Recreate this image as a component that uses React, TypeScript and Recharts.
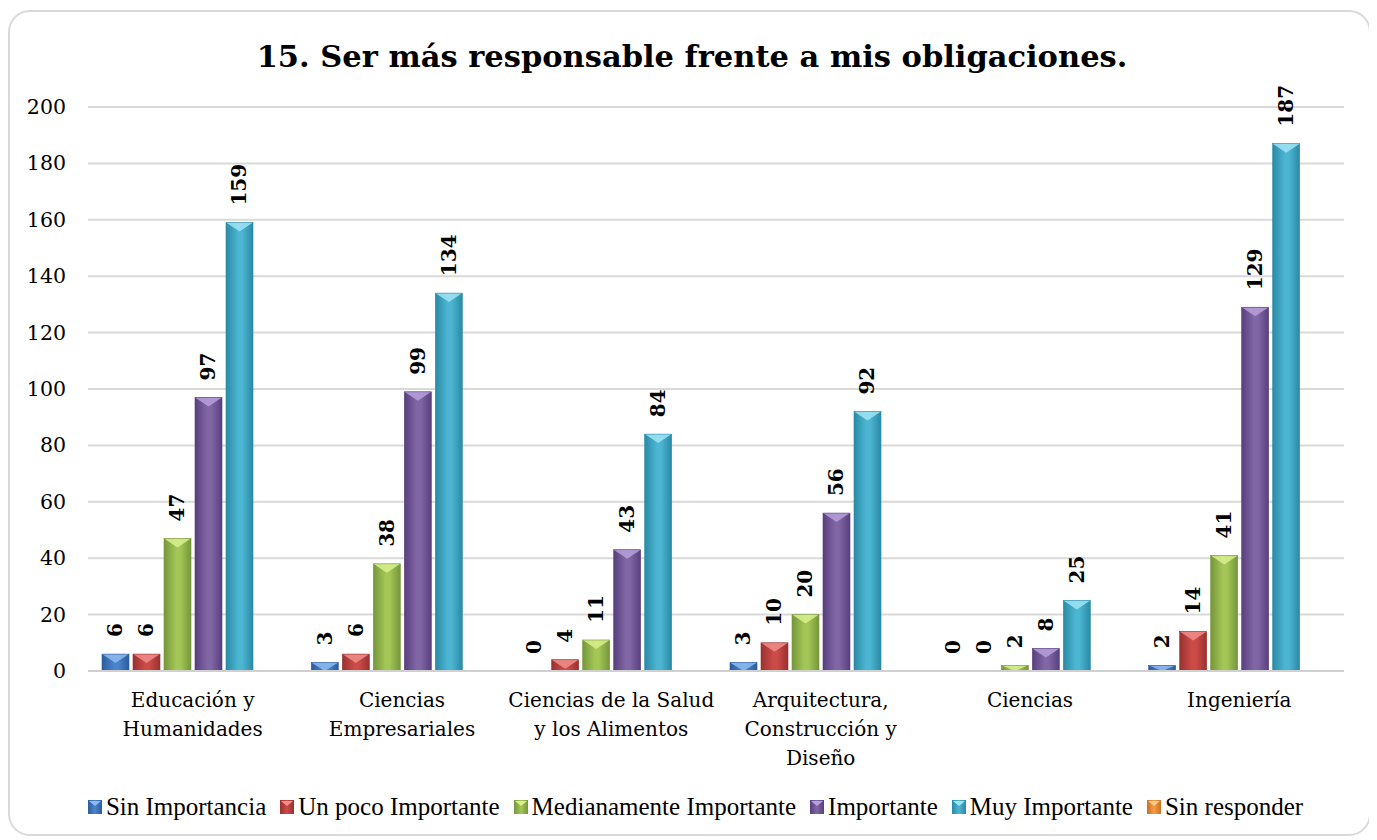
import React from "react";
import { BarChart, Bar, XAxis, YAxis, CartesianGrid, LabelList } from "recharts";

const categories = [
  "Educación y Humanidades",
  "Ciencias Empresariales",
  "Ciencias de la Salud y los Alimentos",
  "Arquitectura, Construcción y Diseño",
  "Ciencias",
  "Ingeniería",
];
const categoryLines = [
  ["Educación y", "Humanidades"],
  ["Ciencias", "Empresariales"],
  ["Ciencias de la Salud", "y los Alimentos"],
  ["Arquitectura,", "Construcción y", "Diseño"],
  ["Ciencias"],
  ["Ingeniería"],
];
const sinImportancia = [6, 3, 0, 3, 0, 2];
const unPocoImportante = [6, 6, 4, 10, 0, 14];
const medianamenteImportante = [47, 38, 11, 20, 2, 41];
const importante = [97, 99, 43, 56, 8, 129];
const muyImportante = [159, 134, 84, 92, 25, 187];
const sinResponder: (number | null)[] = [null, null, null, null, null, null];

const seriesNames = [
  "Sin Importancia",
  "Un poco Importante",
  "Medianamente Importante",
  "Importante",
  "Muy Importante",
  "Sin responder",
];
const seriesValues = [
  sinImportancia,
  unPocoImportante,
  medianamenteImportante,
  importante,
  muyImportante,
  sinResponder,
];
const yTicks = [0, 20, 40, 60, 80, 100, 120, 140, 160, 180, 200];
const title = "15. Ser más responsable frente a mis obligaciones.";

// [edge, center, top highlight]
const palette = [
  ["#2d5c9c", "#4a84cc", "#8fbaf0"],
  ["#983230", "#cc4b48", "#f08e8b"],
  ["#76963a", "#a3c656", "#d8f08e"],
  ["#583f7d", "#8166a6", "#b7a0db"],
  ["#2a8aa5", "#4cb5d2", "#9fe4f5"],
  ["#c8721f", "#f89a48", "#fcc98f"],
];

const data = categories.map((c, i) => {
  const row: Record<string, string | number | null> = { name: c };
  seriesValues.forEach((vals, s) => {
    row["s" + s] = vals[i];
  });
  return row;
});

const serif = "'DejaVu Serif', serif";

function BevelBar(props: any) {
  const { x, y, width, height, idx } = props;
  if (height == null || height <= 0 || isNaN(height)) return null;
  const tri = Math.min(9, height);
  return (
    <g>
      <rect x={x} y={y} width={width} height={height} fill={`url(#grad${idx})`} />
      <polygon
        points={`${x},${y} ${x + width},${y} ${x + width / 2},${y + tri}`}
        fill={palette[idx][2]}
        opacity={0.85}
      />
      <rect x={x} y={y} width={width} height={height} fill="none" stroke={palette[idx][0]} strokeWidth={0.6} />
    </g>
  );
}

function ValueLabel(props: any) {
  const { x, y, width, value } = props;
  if (value == null) return null;
  const cx = x + width / 2;
  const ty = y - 17;
  return (
    <text
      x={cx}
      y={ty}
      transform={`rotate(-90, ${cx}, ${ty})`}
      textAnchor="start"
      dominantBaseline="central"
      fontFamily={serif}
      fontWeight="bold"
      fontSize={20}
      fill="#000"
    >
      {value}
    </text>
  );
}

function XTick(props: any) {
  const { x, y, index } = props;
  const lines = categoryLines[index] || [];
  return (
    <g>
      {lines.map((l, i) => (
        <text key={i} x={x} y={y + 36 + i * 29} textAnchor="middle" fontFamily={serif} fontSize={20} fill="#000">
          {l}
        </text>
      ))}
    </g>
  );
}

function YTick(props: any) {
  const { x, y, payload } = props;
  return (
    <text x={x - 14} y={y} textAnchor="end" dominantBaseline="central" fontFamily={serif} fontSize={20.5} fill="#000">
      {payload.value}
    </text>
  );
}

function LegendMarker({ idx }: { idx: number }) {
  return (
    <svg width={14} height={14} style={{ display: "block" }}>
      <defs>
        <linearGradient id={`lg${idx}`} x1="0" y1="0" x2="1" y2="0">
          <stop offset="0" stopColor={palette[idx][0]} />
          <stop offset="0.5" stopColor={palette[idx][1]} />
          <stop offset="1" stopColor={palette[idx][0]} />
        </linearGradient>
      </defs>
      <rect x={0} y={0} width={14} height={14} fill={`url(#lg${idx})`} />
      <polygon points="1,1 13,1 7,6" fill={palette[idx][2]} />
    </svg>
  );
}

export default function App() {
  return (
    <div style={{ position: "relative", width: 1363, height: 830, marginTop: 2 }}>
      <div
        style={{
          position: "absolute",
          left: 0,
          top: 0,
          width: 1359,
          height: 822,
          border: "2px solid #d9d9d9",
          borderRadius: 22,
          background: "#fff",
        }}
      />
      <div
        style={{
          position: "absolute",
          left: 0,
          top: 28,
          width: 1368,
          textAlign: "center",
          fontFamily: serif,
          fontWeight: "bold",
          fontSize: 30.5,
          lineHeight: "36px",
          color: "#000",
        }}
      >
        {title}
      </div>
      <div style={{ position: "absolute", left: 0, top: 0 }}>
        <BarChart
          width={1361}
          height={830}
          data={data}
          margin={{ top: 97, right: 25, left: 0, bottom: 0 }}
          barSize={27}
          barGap={4}
        >
          <defs>
            {palette.map((p, i) => (
              <linearGradient key={i} id={`grad${i}`} x1="0" y1="0" x2="1" y2="0">
                <stop offset="0" stopColor={p[0]} />
                <stop offset="0.45" stopColor={p[1]} />
                <stop offset="0.6" stopColor={p[1]} />
                <stop offset="1" stopColor={p[0]} />
              </linearGradient>
            ))}
          </defs>
          <CartesianGrid vertical={false} stroke="#d9d9d9" strokeWidth={2} />
          <XAxis
            dataKey="name"
            interval={0}
            tickLine={false}
            tickSize={0}
            tickMargin={0}
            axisLine={{ stroke: "#d0d0d0", strokeWidth: 2 }}
            tick={<XTick />}
            height={169}
          />
          <YAxis
            domain={[0, 200]}
            ticks={yTicks}
            width={80}
            axisLine={false}
            tickLine={false}
            tick={<YTick />}
          />
          {seriesNames.map((n, i) => (
            <Bar
              key={n}
              dataKey={"s" + i}
              name={n}
              fill={palette[i][1]}
              isAnimationActive={false}
              shape={(p: any) => <BevelBar {...p} idx={i} />}
            >
              <LabelList dataKey={"s" + i} content={<ValueLabel />} />
            </Bar>
          ))}
        </BarChart>
      </div>
      <div
        style={{
          position: "absolute",
          left: 0,
          top: 782,
          width: 1375,
          display: "flex",
          justifyContent: "center",
          alignItems: "center",
          fontFamily: "'Liberation Serif', serif",
          fontSize: 25,
          color: "#000",
          lineHeight: "30px",
          whiteSpace: "nowrap",
        }}
      >
        {seriesNames.map((n, i) => (
          <div key={n} style={{ display: "flex", alignItems: "center", marginLeft: i === 0 ? 0 : 14 }}>
            <LegendMarker idx={i} />
            <span style={{ marginLeft: 4 }}>{n}</span>
          </div>
        ))}
      </div>
    </div>
  );
}
